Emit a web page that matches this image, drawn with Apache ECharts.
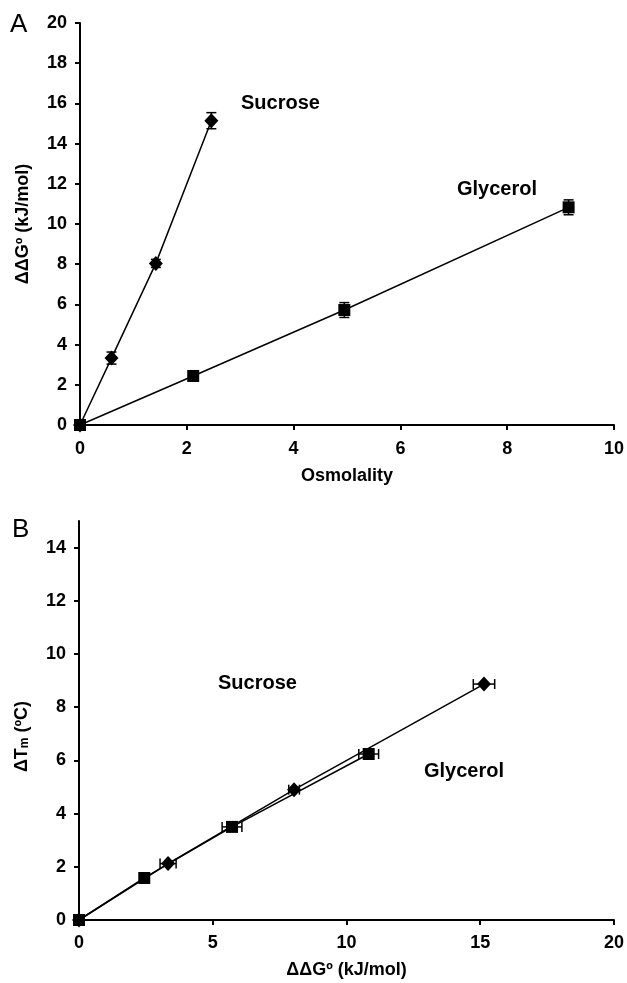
<!DOCTYPE html>
<html>
<head>
<meta charset="utf-8">
<title>Osmolyte stabilization</title>
<script src="https://cdn.jsdelivr.net/npm/echarts@6/dist/echarts.min.js"></script>
<style>
  html, body { margin: 0; padding: 0; background: #fff; }
  #chart { width: 627px; height: 983px; }
</style>
</head>
<body>
<div id="chart"></div>
<script>
// Panel A: ΔΔGº versus osmolality
const sucroseOsm = [0, 0.59, 1.42, 2.46];
const sucroseDG = [0, 3.33, 8.04, 15.14];
const sucroseDGErr = [0, 0.3, 0.2, 0.4];

const glycerolOsm = [0, 2.12, 4.95, 9.15];
const glycerolDG = [0, 2.44, 5.72, 10.83];
const glycerolDGErr = [0, 0.15, 0.37, 0.37];

// Panel B: ΔTm versus ΔΔGº
const sucroseTm = [0, 2.12, 4.9, 8.87];
const glycerolTm = [0, 1.58, 3.5, 6.24];

const xTicksA = [0, 2, 4, 6, 8, 10];
const yTicksA = [0, 2, 4, 6, 8, 10, 12, 14, 16, 18, 20];
const xTicksB = [0, 5, 10, 15, 20];
const yTicksB = [0, 2, 4, 6, 8, 10, 12, 14];
const yMaxB = 15;

const FONT = "'Liberation Sans', Arial, sans-serif";

const pairs = (xs, ys) => xs.map((x, i) => [x, ys[i]]);
const triples = (xs, ys, es) => xs.map((x, i) => [x, ys[i], es[i]]);

function axisBase(ticks, margin) {
  return {
    type: 'value',
    min: ticks[0],
    max: ticks[ticks.length - 1],
    interval: ticks[1] - ticks[0],
    splitLine: { show: false },
    axisLine: { show: true, onZero: false, lineStyle: { color: '#000', width: 2 } },
    axisTick: { show: true, inside: false, length: 5, lineStyle: { color: '#000', width: 2 }, customValues: ticks },
    axisLabel: { color: '#000', fontFamily: FONT, fontWeight: 'bold', fontSize: 18, margin, customValues: ticks },
    nameLocation: 'middle',
    nameTextStyle: { color: '#000', fontFamily: FONT, fontWeight: 'bold', fontSize: 18 }
  };
}

// Error bar drawn as a line with end caps; dir 'v' vertical, 'h' horizontal
function errorBar(dir) {
  return function (params, api) {
    const x = api.value(0), y = api.value(1), e = api.value(2);
    if (!e) return null;
    const cap = 5;
    let a, b, c1, c2;
    if (dir === 'v') {
      a = api.coord([x, y - e]); b = api.coord([x, y + e]);
      c1 = [[a[0] - cap, a[1]], [a[0] + cap, a[1]]];
      c2 = [[b[0] - cap, b[1]], [b[0] + cap, b[1]]];
    } else {
      a = api.coord([x - e, y]); b = api.coord([x + e, y]);
      c1 = [[a[0], a[1] - cap], [a[0], a[1] + cap]];
      c2 = [[b[0], b[1] - cap], [b[0], b[1] + cap]];
    }
    const st = { stroke: '#000', lineWidth: 1.5 };
    return {
      type: 'group',
      children: [
        { type: 'line', shape: { x1: a[0], y1: a[1], x2: b[0], y2: b[1] }, style: st },
        { type: 'line', shape: { x1: c1[0][0], y1: c1[0][1], x2: c1[1][0], y2: c1[1][1] }, style: st },
        { type: 'line', shape: { x1: c2[0][0], y1: c2[0][1], x2: c2[1][0], y2: c2[1][1] }, style: st }
      ]
    };
  };
}

function lineSeries(name, data, xi, symbol, size) {
  return {
    name, type: 'line', xAxisIndex: xi, yAxisIndex: xi, data,
    symbol, symbolSize: size,
    lineStyle: { color: '#000', width: 1.5 },
    itemStyle: { color: '#000' },
    z: 3, animation: false
  };
}

function errSeries(data, xi, dir) {
  return {
    type: 'custom', xAxisIndex: xi, yAxisIndex: xi, data,
    renderItem: errorBar(dir), z: 2, animation: false, silent: true
  };
}

const textStyle = (size, weight) => ({
  fill: '#000', font: `${weight} ${size}px ${FONT}`
});

const chart = echarts.init(document.getElementById('chart'), null, { renderer: 'canvas' });

const yAxisB = axisBase(yTicksB, 13);
yAxisB.max = yMaxB;

chart.setOption({
  backgroundColor: '#fff',
  animation: false,
  grid: [
    { left: 80, top: 23, width: 535, height: 402 },
    { left: 79, top: 521, width: 535, height: 399 }
  ],
  xAxis: [
    Object.assign(axisBase(xTicksA, 15), { gridIndex: 0, name: 'Osmolality', nameGap: 42 }),
    Object.assign(axisBase(xTicksB, 14), { gridIndex: 1, name: 'ΔΔGº (kJ/mol)', nameGap: 41 })
  ],
  yAxis: [
    Object.assign(axisBase(yTicksA, 13), { gridIndex: 0, name: 'ΔΔGº (kJ/mol)', nameGap: 48 }),
    Object.assign(yAxisB, {
      gridIndex: 1,
      name: '{a|ΔT}{s|m}{a| (ºC)}', nameGap: 48,
      nameTextStyle: {
        color: '#000', fontFamily: FONT, fontWeight: 'bold', fontSize: 18,
        padding: [0, 32, 0, 0],
        rich: {
          a: { color: '#000', fontFamily: FONT, fontWeight: 'bold', fontSize: 18 },
          s: { color: '#000', fontFamily: FONT, fontWeight: 'bold', fontSize: 12, verticalAlign: 'bottom', padding: [6, 0, 0, 0] }
        }
      }
    })
  ],
  series: [
    errSeries(triples(sucroseOsm, sucroseDG, sucroseDGErr), 0, 'v'),
    errSeries(triples(glycerolOsm, glycerolDG, glycerolDGErr), 0, 'v'),
    lineSeries('Sucrose', pairs(sucroseOsm, sucroseDG), 0, 'diamond', [14, 15]),
    lineSeries('Glycerol', pairs(glycerolOsm, glycerolDG), 0, 'rect', 12),

    errSeries(triples(sucroseDG, sucroseTm, sucroseDGErr), 1, 'h'),
    errSeries(triples(glycerolDG, glycerolTm, glycerolDGErr), 1, 'h'),
    lineSeries('Sucrose', pairs(sucroseDG, sucroseTm), 1, 'diamond', [14, 15]),
    lineSeries('Glycerol', pairs(glycerolDG, glycerolTm), 1, 'rect', 12)
  ],
  graphic: [
    { type: 'text', left: 10, top: 12, style: Object.assign({ text: 'A' }, textStyle(26, 'normal')) },
    { type: 'text', left: 12, top: 517, style: Object.assign({ text: 'B' }, textStyle(26, 'normal')) },
    { type: 'text', left: 241, top: 93, style: Object.assign({ text: 'Sucrose' }, textStyle(20, 'bold')) },
    { type: 'text', left: 457, top: 179, style: Object.assign({ text: 'Glycerol' }, textStyle(20, 'bold')) },
    { type: 'text', left: 218, top: 673, style: Object.assign({ text: 'Sucrose' }, textStyle(20, 'bold')) },
    { type: 'text', left: 424, top: 761, style: Object.assign({ text: 'Glycerol' }, textStyle(20, 'bold')) }
  ]
});
</script>
</body>
</html>
